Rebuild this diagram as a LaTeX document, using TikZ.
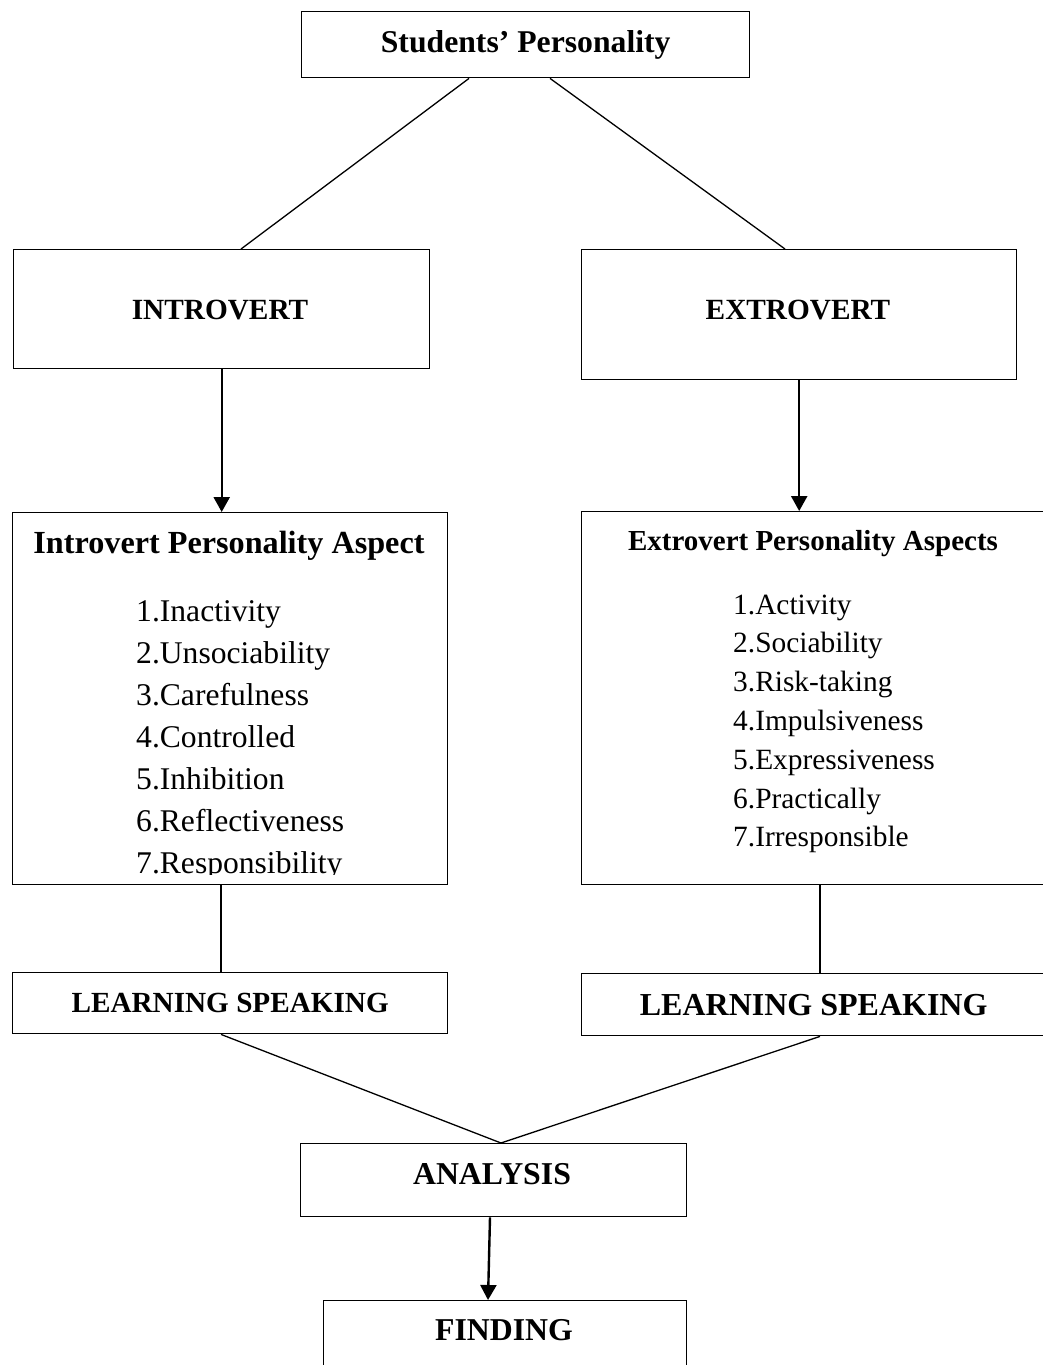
\documentclass[tikz,border=0pt]{standalone}
\usepackage{fontspec}
\setmainfont{Liberation Serif}
\usetikzlibrary{arrows.meta}
\begin{document}
\begin{tikzpicture}[x=1pt,y=-1pt,
  box/.style={draw, line width=1.4pt, inner sep=0pt, anchor=north west},
  lbl/.style={inner sep=0pt, font=\bfseries\fontsize{#1}{#1}\selectfont},
  item/.style={inner sep=0pt, anchor=base west, font=\fontsize{#1}{#1}\selectfont},
  link/.style={line width=1.3pt},
  flow/.style={line width=2.4pt, -{Triangle[width=16pt,length=15pt]}}
]
\useasboundingbox (0,0) rectangle (1043,1365);
\clip (0,0) rectangle (1043,1365);

% top level
\node[box, minimum width=448, minimum height=66, font=\bfseries\fontsize{31.7}{31.7}\selectfont] (top) at (301,11) {Students’ Personality};

% the two personality types
\node[box, minimum width=416, minimum height=119] (intro) at (13,249) {};
\node[lbl=29.3] (introText) at (220,310) {INTROVERT};
\node[box, minimum width=435, minimum height=130] (extro) at (581,249) {};
\node[lbl=29.3] (extroText) at (798,310) {EXTROVERT};

% aspect boxes
\node[box, minimum width=435, minimum height=372] (ia) at (12,512) {};
\node[box, minimum width=464, minimum height=373] (ea) at (581,511) {};
\node[lbl=32.2, anchor=base] (iaTitle) at (229,553) {Introvert Personality Aspect};
\node[lbl=29, anchor=base] (eaTitle) at (813,550) {Extrovert Personality Aspects};

\begin{scope}
  \clip (12,512) rectangle (447,874);
  \foreach \t [count=\k from 0] in {1.Inactivity, 2.Unsociability, 3.Carefulness,
      4.Controlled, 5.Inhibition, 6.Reflectiveness, 7.Responsibility}
    \node[item=31.6] (iitem\k) at (136,{621+42*\k}) {\t};
\end{scope}
\foreach \t [count=\k from 0] in {1.Activity, 2.Sociability, 3.Risk-taking,
    4.Impulsiveness, 5.Expressiveness, 6.Practically, 7.Irresponsible}
  \node[item=29.4] (eitem\k) at (733,{614+38.8*\k}) {\t};

% learning speaking
\node[box, minimum width=435, minimum height=61, font=\bfseries\fontsize{29.2}{29.2}\selectfont] (lsl) at (12,972) {LEARNING SPEAKING};
\node[box, minimum width=464, minimum height=62, font=\bfseries\fontsize{32}{32}\selectfont] (lsr) at (581,973) {LEARNING SPEAKING};

% analysis and finding
\node[box, minimum width=386, minimum height=73] (an) at (300,1143) {};
\node[lbl=31.8] (anText) at (492,1174) {ANALYSIS};
\node[box, minimum width=363, minimum height=100] (fi) at (323,1300) {};
\node[lbl=31.8] (fiText) at (504,1330) {FINDING};

% connectors
\draw[link] ([xshift=168]top.south west) -- ([xshift=228]intro.north west);
\draw[link] ([xshift=249]top.south west) -- ([xshift=204]extro.north west);
\draw[flow] (intro.south) -- (intro.south |- ia.north);
\draw[flow] (extro.south) -- (extro.south |- ea.north);
\draw[link] ([xshift=209]ia.south west) -- ([xshift=209]lsl.north west);
\draw[link] ([xshift=239]ea.south west) -- ([xshift=239]lsr.north west);
\draw[link] ([xshift=209]lsl.south west) -- ([xshift=201]an.north west);
\draw[link] ([xshift=239]lsr.south west) -- ([xshift=201]an.north west);
\draw[flow] ([xshift=190]an.south west) -- ([xshift=165]fi.north west);
\end{tikzpicture}
\end{document}
